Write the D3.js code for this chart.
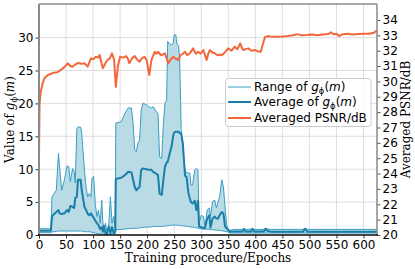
<!DOCTYPE html>
<html><head><meta charset="utf-8">
<script src="https://cdn.jsdelivr.net/npm/d3@7"></script>
<style>body{margin:0;background:#fff}</style>
</head><body><svg id="c" width="415" height="269"></svg>
<script>
const xTicks = [0,50,100,150,200,250,300,350,400,450,500,550,600];
const yLeftTicks = [0,5,10,15,20,25,30];
const yRightTicks = [20,21,22,23,24,25,26,27,28,29,30,31,32,33,34];

const gEpochs = [0,22,24,28,32,36,38,42,47,52,55,58,62,65,67,70,72,77,79,81,84,87,90,93,96,98,101,104,107,110,113,116,118,120,123,126,129,132,135,138,141,142,152,159,165,171,174,177,180,183,186,189,192,199,203,208,211,217,220,223,227,230,233,236,238,242,245,248,250,253,255,258,260,263,266,270,273,276,279,281,284,288,291,294,296,300,304,307,311,315,317,321,325,328,331,334,338,341,344,347,350,353,360,376,379,382,392,395,398,416,419,423,430,488,492,496,625];
const gUpper = [0.95,0.95,5.8,6.3,6.8,12.4,10.4,6.8,8.4,10.5,10.4,8.1,10.1,9.6,7.9,16.2,16.4,16.4,15.5,13.2,9.9,7.3,5.8,6.3,5.8,8.6,8.9,4.8,2.8,3.8,1.8,5.3,2.0,0.8,1.8,0.3,1.5,5.8,1.8,2.8,1.3,17.0,17.2,18.5,19.3,19.3,17.0,12.9,12.7,14.0,14.4,19.0,20.0,19.8,19.5,19.3,19.5,18.7,18.5,11.9,11.6,17.0,20.0,20.5,29.4,29.0,28.9,29.1,30.4,30.4,29.0,28.8,27.0,16.0,12.9,9.9,9.4,9.4,9.4,7.6,7.6,9.9,10.1,9.9,1.8,3.0,2.8,1.3,3.8,4.1,2.8,5.1,5.3,4.1,5.0,5.8,8.4,7.3,4.3,1.5,0.8,0.7,0.85,0.85,1.0,0.85,0.9,1.0,0.85,0.85,1.0,0.9,0.85,0.85,1.05,0.85,0.85];
const gLower = [0.35,0.35,0.5,0.5,0.55,0.6,0.6,0.6,0.6,0.6,0.6,0.6,0.6,0.6,0.6,0.6,0.6,0.6,0.6,0.55,0.5,0.5,0.5,0.5,0.45,0.4,0.35,0.3,0.25,0.2,0.15,0.15,0.1,0.1,0.1,0.05,0.1,0.15,0.15,0.2,0.2,0.8,0.85,0.9,0.95,1.0,1.0,1.0,1.0,1.05,1.1,1.1,1.15,1.2,1.2,1.25,1.3,1.3,1.3,1.3,1.3,1.35,1.35,1.4,1.4,1.45,1.5,1.5,1.5,1.5,1.5,1.45,1.45,1.4,1.4,1.35,1.3,1.3,1.25,1.2,1.2,1.15,1.1,1.05,1.0,0.95,0.9,0.9,0.85,0.85,0.8,0.8,0.75,0.75,0.7,0.7,0.65,0.6,0.55,0.5,0.45,0.3,0.3,0.3,0.3,0.3,0.3,0.3,0.3,0.3,0.3,0.3,0.3,0.3,0.3,0.3,0.3];
const gAvg = [0.65,0.65,2.8,3.2,3.5,3.8,3.3,3.2,3.3,3.8,3.5,4.4,4.3,4.1,5.6,5.8,8.4,8.4,6.8,5.8,4.3,3.8,3.2,3.0,3.3,3.0,2.6,2.2,1.8,1.5,0.9,1.2,0.5,1.4,0.25,0.25,1.3,0.3,1.2,0.3,0.5,8.5,8.7,9.1,9.6,9.5,8.4,7.3,6.8,7.1,7.3,9.9,10.1,10.0,9.9,9.9,9.6,9.3,9.1,6.3,6.1,8.4,10.4,11.0,11.1,12.5,13.4,15.0,15.6,15.7,15.7,15.7,15.5,15.4,13.9,9.0,8.8,6.5,5.5,5.0,4.8,5.2,3.8,5.2,1.3,1.2,1.0,1.1,2.5,3.0,1.1,2.5,2.8,2.5,2.5,3.0,3.5,3.3,1.3,1.0,0.76,0.5,0.55,0.55,0.9,0.55,0.55,0.9,0.55,0.55,0.95,0.6,0.5,0.5,0.95,0.5,0.5];

const psnrEpochs = [0,1,3,7,10,16,22,28,34,40,46,53,58,62,67,72,78,84,90,96,100,105,110,112,118,123,127,131,135,139,142,146,150,156,161,164,167,172,177,182,186,190,195,199,201,204,208,214,217,220,226,233,236,239,243,248,252,257,262,266,270,274,279,285,290,294,299,304,307,310,313,316,320,325,330,334,338,344,350,356,362,367,372,375,378,382,387,393,400,405,410,413,418,425,430,440,450,460,470,478,485,495,505,515,525,535,540,545,550,555,560,570,580,590,600,610,618,625];
const psnrValues = [25.2,28.5,29.3,29.9,30.2,30.4,30.5,30.57,30.6,30.74,30.9,31.18,31.0,30.96,31.1,31.2,31.15,31.18,30.96,31.5,31.45,31.6,31.55,31.72,30.85,31.2,31.4,31.5,31.83,31.4,29.65,31.0,31.6,31.55,31.65,31.5,31.18,31.5,31.65,31.4,31.28,31.5,31.6,31.4,31.0,30.42,31.4,31.93,31.8,31.93,31.7,31.83,31.5,31.18,31.4,31.6,31.5,31.4,31.7,31.8,31.93,31.7,31.83,32.15,31.8,31.93,31.8,32.04,31.7,31.4,31.8,32.04,31.9,31.83,31.7,31.75,31.7,31.9,32.15,32.0,32.26,32.1,32.48,32.2,32.04,32.1,32.15,32.0,32.04,31.95,31.93,32.3,32.9,32.95,32.9,32.9,32.92,32.95,33.0,33.08,33.0,33.02,33.05,33.0,33.05,33.08,33.2,33.05,33.1,32.95,33.05,33.1,33.05,33.08,33.1,33.1,33.15,33.3];

const svg = d3.select('#c');
const L = 39, R = 377, T = 4, B = 235;
const x = d3.scaleLinear().domain([0, 625]).range([L, R]);
const yL = d3.scaleLinear().domain([0, 35.1]).range([B, T]);
const yR = d3.scaleLinear().domain([20, 35.04]).range([B, T]);

const fillC = '#b8dbe6', rangeC = '#3a9ec4', avgC = '#1a7fa8', psnrC = '#f4673b';
const tickFont = "'DejaVu Sans', sans-serif";
const serif = "'DejaVu Serif', serif";

// grid
const grid = svg.append('g');
xTicks.forEach(t => grid.append('line').attr('x1', x(t)).attr('x2', x(t)).attr('y1', T).attr('y2', B)
  .attr('stroke', '#dedede').attr('stroke-width', 1));
yLeftTicks.forEach(t => grid.append('line').attr('x1', L).attr('x2', R).attr('y1', yL(t)).attr('y2', yL(t))
  .attr('stroke', '#dedede').attr('stroke-width', 1));

const gData = gEpochs.map((e, i) => ({e, u: gUpper[i], l: gLower[i], a: gAvg[i]}));
svg.append('path').datum(gData)
  .attr('d', d3.area().x(d => x(d.e)).y0(d => yL(d.l)).y1(d => yL(d.u)))
  .attr('fill', fillC).attr('stroke', 'none');
svg.append('path').datum(gData).attr('d', d3.line().x(d => x(d.e)).y(d => yL(d.u)))
  .attr('fill', 'none').attr('stroke', rangeC).attr('stroke-width', 1);
svg.append('path').datum(gData).attr('d', d3.line().x(d => x(d.e)).y(d => yL(d.l)))
  .attr('fill', 'none').attr('stroke', rangeC).attr('stroke-width', 1);
svg.append('path').datum(gData).attr('d', d3.line().x(d => x(d.e)).y(d => yL(d.a)))
  .attr('fill', 'none').attr('stroke', avgC).attr('stroke-width', 2).attr('stroke-linejoin', 'round');

const pData = psnrEpochs.map((e, i) => ({e, v: psnrValues[i]}));
svg.append('path').datum(pData).attr('d', d3.line().x(d => x(d.e)).y(d => yR(d.v)))
  .attr('fill', 'none').attr('stroke', psnrC).attr('stroke-width', 2).attr('stroke-linejoin', 'round');

// axes
function styleAxis(g) {
  g.select('.domain').remove();
  g.selectAll('text').attr('font-family', tickFont).attr('font-size', 12).attr('fill', '#000');
}
svg.append('g').attr('transform', `translate(0,${B})`)
  .call(d3.axisBottom(x).tickValues(xTicks).tickSize(3.5).tickPadding(2).tickFormat(d3.format('d')))
  .call(styleAxis).selectAll('line').attr('stroke', '#333');
svg.append('g').attr('transform', `translate(${L},0)`)
  .call(d3.axisLeft(yL).tickValues(yLeftTicks).tickSize(3.5).tickPadding(2).tickFormat(d3.format('d')))
  .call(styleAxis).selectAll('line').attr('stroke', '#333');
svg.append('g').attr('transform', `translate(${R},0)`)
  .call(d3.axisRight(yR).tickValues(yRightTicks).tickSize(3.5).tickPadding(2).tickFormat(d3.format('d')))
  .call(styleAxis).selectAll('line').attr('stroke', '#555');

// spines
svg.append('line').attr('x1', L).attr('x2', R).attr('y1', T).attr('y2', T).attr('stroke', '#8a8a8a').attr('stroke-width', 1.5);
svg.append('line').attr('x1', L).attr('x2', L).attr('y1', T).attr('y2', B).attr('stroke', '#8a8a8a').attr('stroke-width', 2);
svg.append('line').attr('x1', R).attr('x2', R).attr('y1', T).attr('y2', B).attr('stroke', '#8a8a8a').attr('stroke-width', 1.5);
svg.append('line').attr('x1', L - 1).attr('x2', R + 1).attr('y1', B).attr('y2', B).attr('stroke', '#111').attr('stroke-width', 1.5);

// axis labels
svg.append('text').attr('x', (L + R) / 2).attr('y', 262).attr('text-anchor', 'middle')
  .attr('font-family', serif).attr('font-size', 12).text('Training procedure/Epochs');

function gLabel(sel, prefix, fs) {
  sel.append('tspan').text(prefix);
  sel.append('tspan').attr('font-style', 'italic').text('g');
  sel.append('tspan').attr('font-size', fs * 0.7).attr('dy', fs * 0.25).text('ϕ');
  sel.append('tspan').attr('dy', -fs * 0.25).text('(');
  sel.append('tspan').attr('font-style', 'italic').text('m');
  sel.append('tspan').text(')');
}
const yl = svg.append('text').attr('transform', `translate(14,${(T + B) / 2}) rotate(-90)`)
  .attr('text-anchor', 'middle').attr('font-family', serif).attr('font-size', 12);
gLabel(yl, 'Value of ', 12);
svg.append('text').attr('transform', `translate(410,${(T + B) / 2}) rotate(-90)`)
  .attr('text-anchor', 'middle').attr('font-family', serif).attr('font-size', 12).text('Averaged PSNR/dB');

// legend
const lg = svg.append('g');
lg.append('rect').attr('x', 225.5).attr('y', 78.5).attr('width', 145.5).attr('height', 48).attr('rx', 3)
  .attr('fill', '#fff').attr('fill-opacity', 0.85).attr('stroke', '#cccccc').attr('stroke-width', 1);
const entries = [
  {y: 87, c: rangeC, w: 1, kind: 'g', prefix: 'Range of '},
  {y: 102, c: avgC, w: 2, kind: 'g', prefix: 'Average of '},
  {y: 118, c: psnrC, w: 2, kind: 't', prefix: 'Averaged PSNR/dB'}
];
entries.forEach(en => {
  lg.append('line').attr('x1', 228).attr('x2', 251).attr('y1', en.y).attr('y2', en.y)
    .attr('stroke', en.c).attr('stroke-width', en.w);
  const t = lg.append('text').attr('x', 254).attr('y', en.y + 4.3)
    .attr('font-family', tickFont).attr('font-size', 12);
  if (en.kind === 'g') gLabel(t, en.prefix, 12); else t.text(en.prefix);
});
</script></body></html>
